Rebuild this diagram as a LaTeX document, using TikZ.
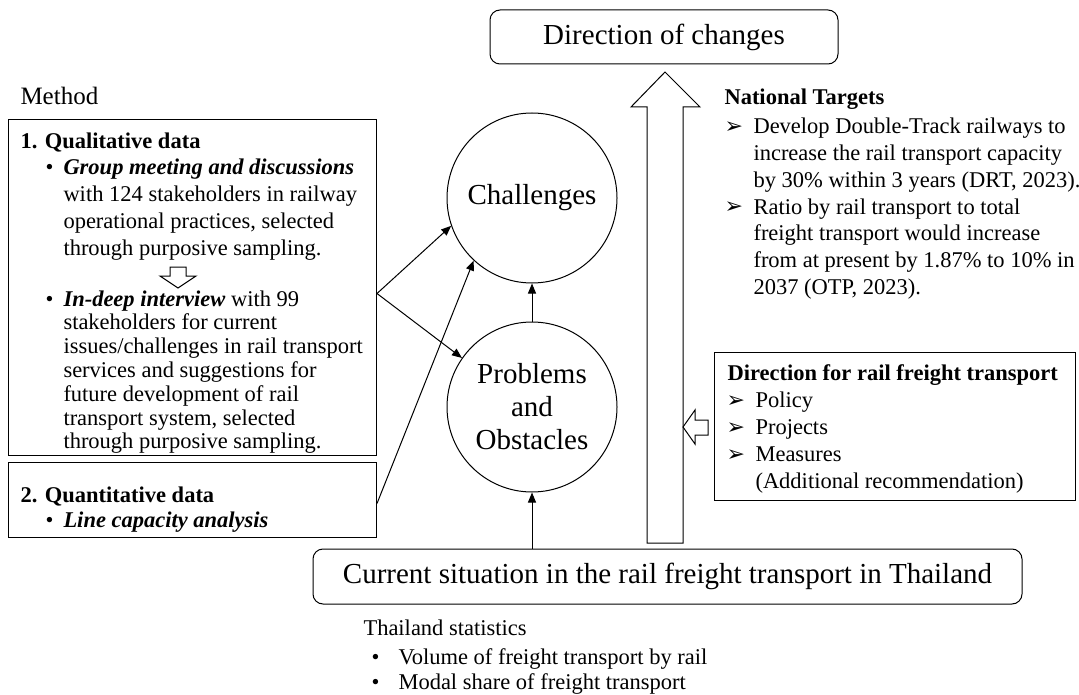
\documentclass[tikz,border=0pt]{standalone}
\usepackage{fontspec}
\setmainfont{Liberation Serif}
\newfontfamily\dejavu{DejaVu Sans}
\usetikzlibrary{arrows.meta,calc}
\newcommand\tipbullet{{\dejavu\fontsize{22}{22}\selectfont ➢}}
\newcommand\textlines[5]{\foreach \ln [count=\k] in {#5} {\node[txt] (#1-\k) at (#2,{#3+(\k-1)*#4}) {\ln};}}
\begin{document}
\begin{tikzpicture}[x=1pt,y=-1pt,line width=1pt,
  txt/.style={font=\fontsize{22.5}{26}\selectfont, inner sep=0pt, anchor=base west},
  big/.style={font=\fontsize{29}{33}\selectfont},
  rbox/.style={draw, rounded corners=10pt, inner sep=0pt, big},
  plainbox/.style={draw, inner sep=0pt, anchor=north west},
  circ/.style={draw, circle, minimum size=170pt, inner sep=0pt, big, align=center},
  arr/.style={-{Triangle[length=10pt,width=8pt]}},
  hollow/.style={draw, fill=white, line width=1pt, line join=miter}]
\useasboundingbox (0,0) rectangle (1079,695);

% boxes
\node[rbox, minimum width=348pt, minimum height=54pt] (dir) at (664,37) {Direction of changes};
\node[rbox, minimum width=709pt, minimum height=55pt] (cur) at (667.5,576.5) {Current situation in the rail freight transport in Thailand};
\node[plainbox, minimum width=368pt, minimum height=336pt] (qual) at (8,119) {};
\node[plainbox, minimum width=368pt, minimum height=75pt] (quant) at (8,462) {};
\node[plainbox, minimum width=361pt, minimum height=148pt] (rail) at (714,352) {};

% circles
\node[circ] (chal) at (532,198) {Challenges};
\node[circ] (prob) at (532,407) {Problems\\and\\Obstacles};

% connectors
\draw[arr] ($(qual.east)+(0,6)$) -- (chal.199);
\draw[arr] ($(qual.east)+(0,6)$) -- (prob.145);
\draw[arr] ($(quant.east)+(0,3.5)$) -- (chal.227);
\draw[arr] (prob.north) -- (chal.south);
\draw[arr] (cur.north -| prob.south) -- (prob.south);

% hollow arrows
\draw[hollow] (170,267) -- (186,267) -- (186,276) -- (196,276) -- (178,288) -- (160,276) -- (170,276) -- cycle;
\draw[hollow] (647,543) -- (647,107) -- (631,107) -- (665,72) -- (700,107) -- (683,107) -- (683,543) -- cycle;
\draw[hollow] (708,420) -- (695,420) -- (695,410) -- (683,427) -- (695,444) -- (695,435) -- (708,435) -- cycle;

% Method
\node[txt, font=\fontsize{25}{30}\selectfont] (method) at (20,105) {Method};

% qualitative
\node[txt] (qh) at (20,149) {\textbf{1. Qualitative data}};
\node[txt] (qb1) at (45,175) {•};
\textlines{qa}{63}{175}{26.7}{{\textbf{\textit{Group meeting and discussions}}},{with 124 stakeholders in railway},{operational practices, selected},{through purposive sampling.}}
\node[txt] (qb2) at (45,306) {•};
\textlines{qc}{63}{306}{23.8}{{\textbf{\textit{In-deep interview}} with 99},{stakeholders for current},{issues/challenges in rail transport},{services and suggestions for},{future development of rail},{transport system, selected},{through purposive sampling.}}

% quantitative
\node[txt] (nh) at (20,502) {\textbf{2. Quantitative data}};
\node[txt] (nb1) at (45,527) {•};
\node[txt] (na1) at (63,527) {\textbf{\textit{Line capacity analysis}}};

% national targets
\node[txt] (th) at (724,105) {\textbf{National Targets}};
\node[txt] (tb1) at (724,134) {\tipbullet};
\node[txt] (tb2) at (724,214) {\tipbullet};
\textlines{ta}{753}{134}{26.7}{{Develop Double-Track railways to},{increase the rail transport capacity},{by 30\% within 3 years (DRT, 2023).},{Ratio by rail transport to total},{freight transport would increase},{from at present by 1.87\% to 10\% in},{2037 (OTP, 2023).}}

% direction for rail freight
\node[txt] (rh) at (727,380) {\textbf{Direction for rail freight transport}};
\node[txt] (rb1) at (726,407) {\tipbullet};
\node[txt] (rb2) at (726,434) {\tipbullet};
\node[txt] (rb3) at (726,461) {\tipbullet};
\textlines{ra}{755}{407}{27}{{Policy},{Projects},{Measures},{(Additional recommendation)}}

% Thailand statistics
\node[txt] (sh) at (363,635) {Thailand statistics};
\node[txt] (sb1) at (371,664) {•};
\node[txt] (sb2) at (371,689) {•};
\textlines{sa}{398}{664}{25}{{Volume of freight transport by rail},{Modal share of freight transport}}
\end{tikzpicture}
\end{document}
